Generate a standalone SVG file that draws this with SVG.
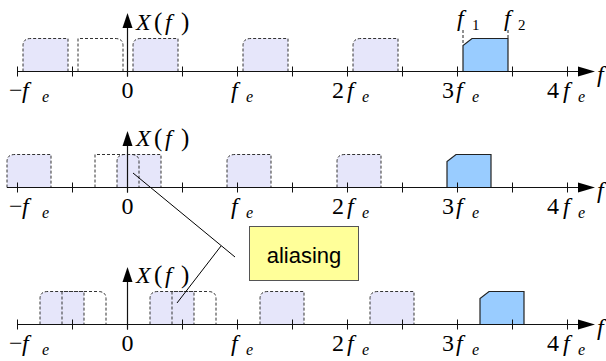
<svg xmlns="http://www.w3.org/2000/svg" width="606" height="361" viewBox="0 0 606 361">
<defs>
<style>
.img{fill:#e6e6fa;stroke:#333;stroke-width:1;stroke-dasharray:3 2}
.mir{fill:none;stroke:#333;stroke-width:1;stroke-dasharray:3 2}
.real{fill:#99ccff;stroke:#222;stroke-width:1.2}
.ax{stroke:#111;stroke-width:1.2;fill:none}
.tk{stroke:#111;stroke-width:1}
.ah{fill:#000}
.dl{stroke:#222;stroke-width:1;stroke-dasharray:3 2}
.cl{stroke:#000;stroke-width:1}
</style>
<g id="ticks">
<path class="tk" d="M17.5,-5V5M72.5,-5V5M127.5,-5V5M182.5,-5V5M237.5,-5V5M292.5,-5V5M347.5,-5V5M402.5,-5V5M457.5,-5V5M512.5,-5V5M567.5,-5V5"/>
</g>
</defs>

<!-- Row 1 -->
<g id="row1">
<g id="r1-spectra">
<path class="img" d="M23,71.5V45.5Q23,38.5 31,38.5H68V71.5"/>
<path class="img" d="M133,71.5V45.5Q133,38.5 141,38.5H178V71.5"/>
<path class="img" d="M243,71.5V45.5Q243,38.5 251,38.5H288V71.5"/>
<path class="img" d="M353,71.5V45.5Q353,38.5 361,38.5H398V71.5"/>
<path class="mir" d="M78,71.5V38.5H115Q123,38.5 123,45.5V71.5"/>
<path class="real" d="M463,71.5V45.5L472,38.5H508V71.5Z"/>
<path class="dl" d="M463,30V45M508,30V38"/>
</g>
<g id="r1-axes">
<path class="ax" d="M17.5,71.5H580"/>
<polygon class="ah" points="595,71.5 578,66.5 578,76.5"/>
<use href="#ticks" y="71.5"/>
<path class="ax" d="M127.5,76.5V26"/>
<polygon class="ah" points="127.5,13 122.5,28 132.5,28"/>
</g>
<g id="r1-labels">
<text x="136" y="30" font-family="Liberation Serif, serif" font-size="24" font-style="italic">X</text>
<text x="154" y="30" font-family="Liberation Serif, serif" font-size="25">(</text>
<text x="165" y="30" font-family="Liberation Serif, serif" font-size="24" font-style="italic">f</text>
<text x="181" y="30" font-family="Liberation Serif, serif" font-size="25">)</text>
<text x="597" y="82" font-family="Liberation Serif, serif" font-size="24" font-style="italic">f</text>
<text x="457" y="26" font-family="Liberation Serif, serif" font-size="24" font-style="italic">f</text>
<text x="472" y="30" font-family="Liberation Serif, serif" font-size="15">1</text>
<text x="504" y="26" font-family="Liberation Serif, serif" font-size="24" font-style="italic">f</text>
<text x="518" y="30" font-family="Liberation Serif, serif" font-size="15">2</text>
<text x="9" y="98" font-family="Liberation Serif, serif" font-size="24">−</text>
<text x="22" y="98" font-family="Liberation Serif, serif" font-size="24" font-style="italic">f</text>
<text x="42" y="102" font-family="Liberation Serif, serif" font-size="16" font-style="italic">e</text>
<text x="127.5" y="98" font-family="Liberation Serif, serif" font-size="24" text-anchor="middle">0</text>
<text x="231" y="98" font-family="Liberation Serif, serif" font-size="24" font-style="italic">f</text>
<text x="246" y="102" font-family="Liberation Serif, serif" font-size="16" font-style="italic">e</text>
<text x="332" y="98" font-family="Liberation Serif, serif" font-size="24">2</text>
<text x="347" y="98" font-family="Liberation Serif, serif" font-size="24" font-style="italic">f</text>
<text x="362" y="102" font-family="Liberation Serif, serif" font-size="16" font-style="italic">e</text>
<text x="442" y="98" font-family="Liberation Serif, serif" font-size="24">3</text>
<text x="456" y="98" font-family="Liberation Serif, serif" font-size="24" font-style="italic">f</text>
<text x="472" y="102" font-family="Liberation Serif, serif" font-size="16" font-style="italic">e</text>
<text x="547" y="98" font-family="Liberation Serif, serif" font-size="24">4</text>
<text x="563" y="98" font-family="Liberation Serif, serif" font-size="24" font-style="italic">f</text>
<text x="578" y="102" font-family="Liberation Serif, serif" font-size="16" font-style="italic">e</text>
</g>
</g>

<!-- Row 2 -->
<g id="row2">
<g id="r2-spectra">
<path class="img" d="M7,187.5V161.5Q7,154.5 15,154.5H51V187.5"/>
<path class="img" d="M117,187.5V161.5Q117,154.5 125,154.5H161V187.5"/>
<path class="img" d="M227,187.5V161.5Q227,154.5 235,154.5H271V187.5"/>
<path class="img" d="M337,187.5V161.5Q337,154.5 345,154.5H381V187.5"/>
<path class="mir" d="M95,187.5V154.5H131Q139,154.5 139,161.5V187.5"/>
<path class="real" d="M447,187.5V161.5L456,154.5H491V187.5Z"/>
</g>
<g id="r2-axes">
<path class="ax" d="M7,187.5H580"/>
<polygon class="ah" points="595,187.5 578,182.5 578,192.5"/>
<use href="#ticks" y="187.5"/>
<path class="ax" d="M127.5,192.5V144"/>
<polygon class="ah" points="127.5,131 122.5,146 132.5,146"/>
</g>
<g id="r2-labels">
<text x="136" y="146" font-family="Liberation Serif, serif" font-size="24" font-style="italic">X</text>
<text x="154" y="146" font-family="Liberation Serif, serif" font-size="25">(</text>
<text x="165" y="146" font-family="Liberation Serif, serif" font-size="24" font-style="italic">f</text>
<text x="181" y="146" font-family="Liberation Serif, serif" font-size="25">)</text>
<text x="597" y="198" font-family="Liberation Serif, serif" font-size="24" font-style="italic">f</text>
<text x="9" y="214" font-family="Liberation Serif, serif" font-size="24">−</text>
<text x="22" y="214" font-family="Liberation Serif, serif" font-size="24" font-style="italic">f</text>
<text x="42" y="218" font-family="Liberation Serif, serif" font-size="16" font-style="italic">e</text>
<text x="127.5" y="214" font-family="Liberation Serif, serif" font-size="24" text-anchor="middle">0</text>
<text x="231" y="214" font-family="Liberation Serif, serif" font-size="24" font-style="italic">f</text>
<text x="246" y="218" font-family="Liberation Serif, serif" font-size="16" font-style="italic">e</text>
<text x="332" y="214" font-family="Liberation Serif, serif" font-size="24">2</text>
<text x="347" y="214" font-family="Liberation Serif, serif" font-size="24" font-style="italic">f</text>
<text x="362" y="218" font-family="Liberation Serif, serif" font-size="16" font-style="italic">e</text>
<text x="442" y="214" font-family="Liberation Serif, serif" font-size="24">3</text>
<text x="456" y="214" font-family="Liberation Serif, serif" font-size="24" font-style="italic">f</text>
<text x="472" y="218" font-family="Liberation Serif, serif" font-size="16" font-style="italic">e</text>
<text x="547" y="214" font-family="Liberation Serif, serif" font-size="24">4</text>
<text x="563" y="214" font-family="Liberation Serif, serif" font-size="24" font-style="italic">f</text>
<text x="578" y="218" font-family="Liberation Serif, serif" font-size="16" font-style="italic">e</text>
</g>
</g>

<!-- Row 3 -->
<g id="row3">
<g id="r3-spectra">
<path class="img" d="M40,324.5V298.5Q40,291.5 48,291.5H84V324.5"/>
<path class="img" d="M150,324.5V298.5Q150,291.5 158,291.5H194V324.5"/>
<path class="img" d="M260,324.5V298.5Q260,291.5 268,291.5H304V324.5"/>
<path class="img" d="M370,324.5V298.5Q370,291.5 378,291.5H414V324.5"/>
<path class="mir" d="M62,324.5V291.5H98Q106,291.5 106,298.5V324.5"/>
<path class="mir" d="M172,324.5V291.5H208Q216,291.5 216,298.5V324.5"/>
<path class="real" d="M480,324.5V298.5L489,291.5H524V324.5Z"/>
</g>
<g id="r3-axes">
<path class="ax" d="M17.5,324.5H580"/>
<polygon class="ah" points="595,324.5 578,319.5 578,329.5"/>
<use href="#ticks" y="324.5"/>
<path class="ax" d="M127.5,329.5V280"/>
<polygon class="ah" points="127.5,267 122.5,282 132.5,282"/>
</g>
<g id="r3-labels">
<text x="136" y="283" font-family="Liberation Serif, serif" font-size="24" font-style="italic">X</text>
<text x="154" y="283" font-family="Liberation Serif, serif" font-size="25">(</text>
<text x="165" y="283" font-family="Liberation Serif, serif" font-size="24" font-style="italic">f</text>
<text x="181" y="283" font-family="Liberation Serif, serif" font-size="25">)</text>
<text x="597" y="335" font-family="Liberation Serif, serif" font-size="24" font-style="italic">f</text>
<text x="9" y="351" font-family="Liberation Serif, serif" font-size="24">−</text>
<text x="22" y="351" font-family="Liberation Serif, serif" font-size="24" font-style="italic">f</text>
<text x="42" y="355" font-family="Liberation Serif, serif" font-size="16" font-style="italic">e</text>
<text x="127.5" y="351" font-family="Liberation Serif, serif" font-size="24" text-anchor="middle">0</text>
<text x="231" y="351" font-family="Liberation Serif, serif" font-size="24" font-style="italic">f</text>
<text x="246" y="355" font-family="Liberation Serif, serif" font-size="16" font-style="italic">e</text>
<text x="332" y="351" font-family="Liberation Serif, serif" font-size="24">2</text>
<text x="347" y="351" font-family="Liberation Serif, serif" font-size="24" font-style="italic">f</text>
<text x="362" y="355" font-family="Liberation Serif, serif" font-size="16" font-style="italic">e</text>
<text x="442" y="351" font-family="Liberation Serif, serif" font-size="24">3</text>
<text x="456" y="351" font-family="Liberation Serif, serif" font-size="24" font-style="italic">f</text>
<text x="472" y="355" font-family="Liberation Serif, serif" font-size="16" font-style="italic">e</text>
<text x="547" y="351" font-family="Liberation Serif, serif" font-size="24">4</text>
<text x="563" y="351" font-family="Liberation Serif, serif" font-size="24" font-style="italic">f</text>
<text x="578" y="355" font-family="Liberation Serif, serif" font-size="16" font-style="italic">e</text>
</g>
</g>

<!-- Callout -->
<g id="connectors">
<line class="cl" x1="133" y1="173" x2="235" y2="257"/>
<line class="cl" x1="221" y1="246" x2="177" y2="303"/>
</g>
<g id="aliasing">
<rect x="249.5" y="226.5" width="109" height="54" fill="#ffff99" stroke="#555" stroke-width="1"/>
<text x="304" y="263" text-anchor="middle" font-family="Liberation Sans, Arial, sans-serif" font-size="22" fill="#000">aliasing</text>
</g>
</svg>
